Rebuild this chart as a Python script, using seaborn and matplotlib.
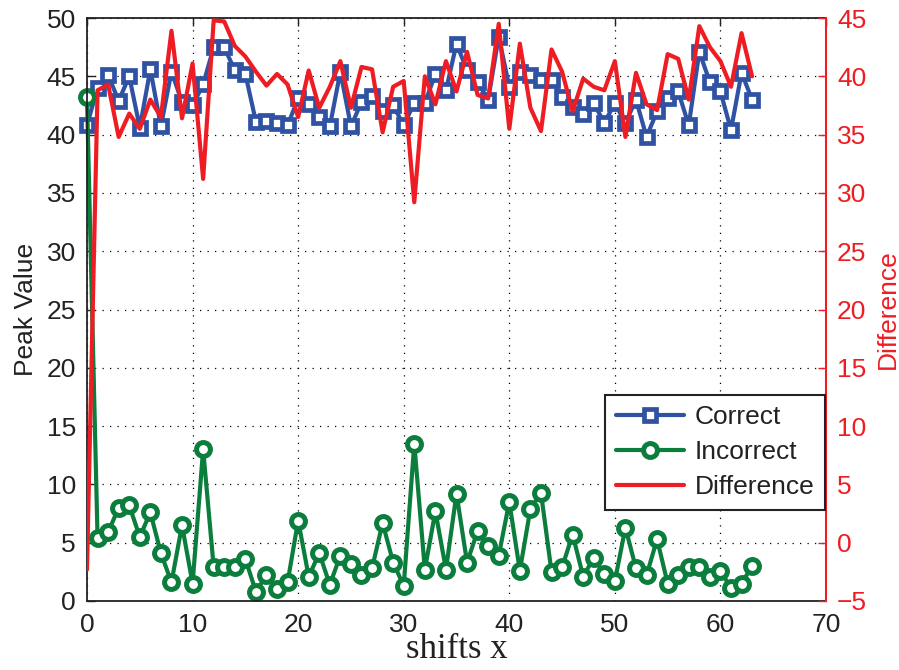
import numpy as np
import pandas as pd
import matplotlib
matplotlib.use("Agg")
import matplotlib.pyplot as plt
import seaborn as sns

shifts = list(range(64))

correct = [40.8, 44.0, 45.1, 42.9, 45.0, 40.6, 45.6, 40.7, 45.4, 42.8,
           42.5, 44.3, 47.5, 47.5, 45.5, 45.2, 41.1, 41.2, 41.0, 40.8,
           43.1, 42.6, 41.5, 40.7, 45.4, 40.7, 42.8, 43.3, 42.0, 42.5,
           40.8, 42.7, 42.7, 45.2, 43.8, 47.8, 45.5, 44.5, 43.0, 48.4,
           44.1, 45.4, 45.1, 44.7, 44.7, 43.2, 42.4, 41.8, 42.7, 41.0,
           42.7, 41.0, 43.0, 39.8, 42.0, 43.1, 43.7, 40.8, 47.1, 44.5,
           43.7, 40.4, 45.3, 43.0]

incorrect = [43.2, 5.4, 5.9, 8.0, 8.2, 5.5, 7.6, 4.1, 1.6, 6.5,
             1.5, 13.0, 2.9, 2.9, 2.9, 3.6, 0.8, 2.2, 1.0, 1.6,
             6.9, 2.1, 4.1, 1.4, 3.9, 3.2, 2.2, 2.8, 6.7, 3.3,
             1.3, 13.5, 2.7, 7.7, 2.7, 9.2, 3.3, 6.0, 4.7, 3.9,
             8.5, 2.6, 7.9, 9.3, 2.5, 2.9, 5.7, 2.1, 3.7, 2.3,
             1.7, 6.3, 2.8, 2.2, 5.3, 1.5, 2.2, 2.9, 2.9, 2.1,
             2.6, 1.1, 1.5, 3.0]

difference = [-2.3, 38.8, 39.3, 34.8, 36.8, 35.5, 38.0, 36.5, 43.9, 36.4,
              41.1, 31.2, 44.8, 44.7, 42.6, 41.7, 40.4, 39.2, 40.2, 39.3,
              36.5, 40.5, 37.3, 39.1, 41.3, 37.3, 40.8, 40.6, 35.2, 39.1,
              39.6, 29.2, 40.0, 37.6, 41.3, 38.7, 42.1, 38.4, 38.1, 44.5,
              35.5, 42.8, 37.3, 35.3, 42.3, 40.4, 37.0, 39.8, 39.1, 38.8,
              41.3, 34.8, 40.3, 37.6, 37.1, 41.9, 41.5, 38.0, 44.3, 42.5,
              41.3, 39.1, 43.7, 40.0]

x_ticks = [0, 10, 20, 30, 40, 50, 60, 70]
left_ticks = [0, 5, 10, 15, 20, 25, 30, 35, 40, 45, 50]
right_ticks = [-5, 0, 5, 10, 15, 20, 25, 30, 35, 40, 45]

df = pd.DataFrame({"shift": shifts, "Correct": correct,
                   "Incorrect": incorrect, "Difference": difference})

sns.set_style("white")
plt.rcParams["font.family"] = ["Liberation Sans", "DejaVu Sans"]

BLUE = "#2F52A3"
GREEN = "#0B7D3C"
RED = "#EE1D24"
FS = 19

fig = plt.figure(figsize=(8.99, 6.70), dpi=100)
ax = fig.add_axes([87 / 899, 1 - 601 / 670, (826 - 87) / 899, (601 - 18) / 670])

sns.lineplot(data=df, x="shift", y="Correct", ax=ax, color=BLUE, lw=3,
             marker="s", markersize=9, markeredgewidth=3.4,
             markerfacecolor="white", markeredgecolor=BLUE, label="Correct",
             legend=False, clip_on=False)
sns.lineplot(data=df, x="shift", y="Incorrect", ax=ax, color=GREEN, lw=3,
             marker="o", markersize=10, markeredgewidth=3.6,
             markerfacecolor="white", markeredgecolor=GREEN, label="Incorrect",
             legend=False, clip_on=False)

ax.set_xlim(0, 70)
ax.set_ylim(0, 50)
ax.set_xticks(x_ticks)
ax.set_yticks(left_ticks)
ax.grid(True, linestyle=(0, (1, 5)), color="black", linewidth=0.9)
ax.tick_params(axis="both", direction="in", length=6, width=1, labelsize=FS,
               colors="#222222", top=True, pad=8)
ax.tick_params(axis="x", pad=9)
for s in ax.spines.values():
    s.set_color("#222222")
    s.set_linewidth(1.3)
ax.set_ylabel("Peak Value", fontsize=FS, color="#222222", labelpad=6)
ax.set_xlabel("shifts x", fontsize=25, family=["Liberation Serif", "DejaVu Serif"],
              color="#222222", labelpad=-3)

ax2 = ax.twinx()
sns.lineplot(data=df, x="shift", y="Difference", ax=ax2, color=RED, lw=3,
             label="Difference", legend=False)
ax2.set_ylim(-5, 45)
ax2.set_yticks(right_ticks)
ax2.tick_params(axis="y", direction="in", length=6, width=1, labelsize=FS,
                colors=RED, pad=8)
ax2.spines["right"].set_color(RED)
ax2.spines["right"].set_linewidth(1.5)
for k in ["left", "top", "bottom"]:
    ax2.spines[k].set_visible(False)
ax2.set_ylabel("Difference", fontsize=FS, color=RED, labelpad=6)
ax2.grid(False)

h1, l1 = ax.get_legend_handles_labels()
h2, l2 = ax2.get_legend_handles_labels()
leg = ax2.legend(h1 + h2, l1 + l2, loc="lower right", bbox_to_anchor=(0.999, 0.156),
                 fontsize=FS, frameon=True, fancybox=False, borderaxespad=0,
                 handlelength=2.6, handletextpad=0.4, labelspacing=0.42,
                 borderpad=0.4, framealpha=1)
leg.get_frame().set_edgecolor("#222222")
leg.get_frame().set_linewidth(1.5)
for t in leg.get_texts():
    t.set_color("#222222")

fig.savefig("out.png", dpi=100)
